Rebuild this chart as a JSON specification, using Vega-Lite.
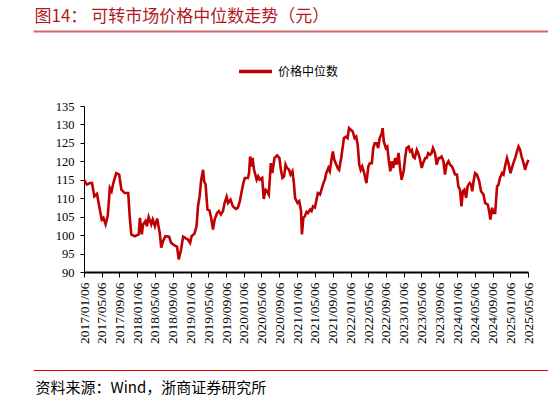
{
  "$schema": "https://vega.github.io/schema/vega-lite/v6.json",
  "width": 444,
  "height": 166,
  "autosize": {"type": "none"},
  "padding": {"left": 84, "top": 106, "right": 20, "bottom": 130},
  "background": "white",
  "config": {"view": {"stroke": null}},
  "data": {
    "values": [
      {"d": "2017-01-06", "v": 115.0}, {"d": "2017-01-26", "v": 113.7}, {"d": "2017-02-15", "v": 114.1}, {"d": "2017-03-02", "v": 114.1},
      {"d": "2017-03-18", "v": 110.5}, {"d": "2017-04-05", "v": 111.2}, {"d": "2017-04-18", "v": 108.3}, {"d": "2017-05-07", "v": 104.2},
      {"d": "2017-05-19", "v": 104.7}, {"d": "2017-06-03", "v": 102.9}, {"d": "2017-06-18", "v": 105.3}, {"d": "2017-07-02", "v": 112.8},
      {"d": "2017-07-14", "v": 111.9}, {"d": "2017-07-26", "v": 114.1}, {"d": "2017-08-15", "v": 116.8}, {"d": "2017-09-04", "v": 116.4},
      {"d": "2017-09-19", "v": 112.3}, {"d": "2017-10-12", "v": 111.4}, {"d": "2017-11-05", "v": 111.4}, {"d": "2017-11-15", "v": 105.1},
      {"d": "2017-11-26", "v": 100.2}, {"d": "2017-12-19", "v": 99.7}, {"d": "2018-01-16", "v": 100.2}, {"d": "2018-01-24", "v": 104.7},
      {"d": "2018-02-06", "v": 100.2}, {"d": "2018-02-15", "v": 102.9}, {"d": "2018-03-03", "v": 103.8}, {"d": "2018-03-13", "v": 102.4},
      {"d": "2018-03-25", "v": 104.9}, {"d": "2018-04-12", "v": 102.9}, {"d": "2018-04-22", "v": 104.2}, {"d": "2018-05-07", "v": 102.4},
      {"d": "2018-05-22", "v": 104.5}, {"d": "2018-06-09", "v": 100.6}, {"d": "2018-06-19", "v": 96.6}, {"d": "2018-07-02", "v": 98.4},
      {"d": "2018-07-18", "v": 99.7}, {"d": "2018-08-12", "v": 99.6}, {"d": "2018-08-26", "v": 97.9}, {"d": "2018-09-19", "v": 97.2},
      {"d": "2018-10-06", "v": 96.8}, {"d": "2018-10-17", "v": 93.4}, {"d": "2018-11-02", "v": 96.1}, {"d": "2018-11-16", "v": 99.6},
      {"d": "2018-12-05", "v": 99.1}, {"d": "2018-12-19", "v": 98.8}, {"d": "2019-01-03", "v": 97.9}, {"d": "2019-01-13", "v": 99.7},
      {"d": "2019-02-02", "v": 100.4}, {"d": "2019-02-16", "v": 102.4}, {"d": "2019-02-26", "v": 107.8}, {"d": "2019-03-09", "v": 110.5},
      {"d": "2019-03-20", "v": 115.0}, {"d": "2019-04-02", "v": 117.7}, {"d": "2019-04-09", "v": 114.6}, {"d": "2019-04-19", "v": 113.7},
      {"d": "2019-05-02", "v": 106.9}, {"d": "2019-05-16", "v": 106.7}, {"d": "2019-05-27", "v": 104.7}, {"d": "2019-06-09", "v": 101.5},
      {"d": "2019-06-20", "v": 104.2}, {"d": "2019-07-07", "v": 106.0}, {"d": "2019-07-19", "v": 106.5}, {"d": "2019-08-02", "v": 105.6},
      {"d": "2019-08-16", "v": 106.5}, {"d": "2019-08-27", "v": 108.7}, {"d": "2019-09-10", "v": 110.4}, {"d": "2019-09-20", "v": 108.7},
      {"d": "2019-10-07", "v": 109.6}, {"d": "2019-10-23", "v": 107.8}, {"d": "2019-11-12", "v": 107.1}, {"d": "2019-11-26", "v": 107.4},
      {"d": "2019-12-10", "v": 109.2}, {"d": "2019-12-20", "v": 111.4}, {"d": "2020-01-03", "v": 114.1}, {"d": "2020-01-13", "v": 115.5},
      {"d": "2020-02-03", "v": 115.5}, {"d": "2020-02-11", "v": 116.8}, {"d": "2020-02-18", "v": 121.3}, {"d": "2020-02-27", "v": 118.6},
      {"d": "2020-03-06", "v": 120.9}, {"d": "2020-03-16", "v": 117.7}, {"d": "2020-04-03", "v": 115.0}, {"d": "2020-04-13", "v": 115.9},
      {"d": "2020-04-24", "v": 115.0}, {"d": "2020-05-11", "v": 115.5}, {"d": "2020-05-21", "v": 109.8}, {"d": "2020-06-04", "v": 112.3},
      {"d": "2020-06-14", "v": 111.9}, {"d": "2020-06-25", "v": 111.0}, {"d": "2020-07-09", "v": 119.5}, {"d": "2020-07-19", "v": 116.8},
      {"d": "2020-08-03", "v": 120.9}, {"d": "2020-08-21", "v": 121.6}, {"d": "2020-09-06", "v": 120.9}, {"d": "2020-09-16", "v": 117.7},
      {"d": "2020-09-27", "v": 115.5}, {"d": "2020-10-08", "v": 115.9}, {"d": "2020-10-18", "v": 119.1}, {"d": "2020-10-28", "v": 118.2},
      {"d": "2020-11-11", "v": 117.7}, {"d": "2020-11-21", "v": 116.4}, {"d": "2020-12-04", "v": 117.3}, {"d": "2020-12-14", "v": 114.1},
      {"d": "2020-12-22", "v": 110.1}, {"d": "2021-01-08", "v": 108.7}, {"d": "2021-01-20", "v": 109.2}, {"d": "2021-02-01", "v": 106.5},
      {"d": "2021-02-07", "v": 100.2}, {"d": "2021-02-17", "v": 104.7}, {"d": "2021-02-27", "v": 105.1}, {"d": "2021-03-11", "v": 106.3},
      {"d": "2021-03-20", "v": 106.0}, {"d": "2021-04-04", "v": 106.9}, {"d": "2021-04-14", "v": 106.5}, {"d": "2021-04-24", "v": 107.8},
      {"d": "2021-05-07", "v": 107.5}, {"d": "2021-05-18", "v": 109.6}, {"d": "2021-05-27", "v": 111.4}, {"d": "2021-06-11", "v": 111.0},
      {"d": "2021-06-21", "v": 112.3}, {"d": "2021-07-04", "v": 114.1}, {"d": "2021-07-14", "v": 115.0}, {"d": "2021-07-24", "v": 116.8},
      {"d": "2021-08-07", "v": 118.2}, {"d": "2021-08-17", "v": 117.3}, {"d": "2021-08-28", "v": 120.4}, {"d": "2021-09-07", "v": 122.7},
      {"d": "2021-09-17", "v": 120.4}, {"d": "2021-09-27", "v": 119.5}, {"d": "2021-10-10", "v": 118.2}, {"d": "2021-10-20", "v": 117.7},
      {"d": "2021-11-03", "v": 120.9}, {"d": "2021-11-14", "v": 124.0}, {"d": "2021-11-22", "v": 126.3}, {"d": "2021-12-07", "v": 126.7},
      {"d": "2021-12-17", "v": 126.3}, {"d": "2021-12-27", "v": 129.0}, {"d": "2022-01-10", "v": 128.5}, {"d": "2022-01-21", "v": 128.1},
      {"d": "2022-02-03", "v": 126.3}, {"d": "2022-02-14", "v": 126.7}, {"d": "2022-02-24", "v": 124.5}, {"d": "2022-03-07", "v": 119.1},
      {"d": "2022-03-17", "v": 117.7}, {"d": "2022-03-27", "v": 118.6}, {"d": "2022-04-10", "v": 116.8}, {"d": "2022-04-25", "v": 114.1},
      {"d": "2022-05-08", "v": 118.6}, {"d": "2022-05-18", "v": 119.5}, {"d": "2022-06-01", "v": 119.5}, {"d": "2022-06-11", "v": 123.6},
      {"d": "2022-06-21", "v": 124.9}, {"d": "2022-07-05", "v": 124.9}, {"d": "2022-07-14", "v": 123.6}, {"d": "2022-07-25", "v": 126.3},
      {"d": "2022-08-08", "v": 127.6}, {"d": "2022-08-14", "v": 129.0}, {"d": "2022-08-22", "v": 125.4}, {"d": "2022-09-05", "v": 123.6},
      {"d": "2022-09-15", "v": 124.0}, {"d": "2022-09-26", "v": 120.0}, {"d": "2022-10-06", "v": 117.3}, {"d": "2022-10-15", "v": 120.0},
      {"d": "2022-10-25", "v": 118.2}, {"d": "2022-11-08", "v": 120.9}, {"d": "2022-11-18", "v": 119.1}, {"d": "2022-12-01", "v": 122.3},
      {"d": "2022-12-11", "v": 118.2}, {"d": "2022-12-22", "v": 115.0}, {"d": "2023-01-05", "v": 117.3}, {"d": "2023-01-15", "v": 120.9},
      {"d": "2023-01-25", "v": 123.6}, {"d": "2023-02-08", "v": 124.0}, {"d": "2023-02-18", "v": 122.7}, {"d": "2023-03-02", "v": 123.1},
      {"d": "2023-03-11", "v": 121.3}, {"d": "2023-03-22", "v": 120.9}, {"d": "2023-04-05", "v": 123.1}, {"d": "2023-04-15", "v": 122.2},
      {"d": "2023-04-25", "v": 120.9}, {"d": "2023-05-09", "v": 118.2}, {"d": "2023-05-18", "v": 119.5}, {"d": "2023-06-02", "v": 120.9},
      {"d": "2023-06-12", "v": 120.9}, {"d": "2023-06-22", "v": 122.2}, {"d": "2023-07-05", "v": 121.8}, {"d": "2023-07-15", "v": 122.2},
      {"d": "2023-07-25", "v": 123.6}, {"d": "2023-08-08", "v": 122.2}, {"d": "2023-08-19", "v": 119.1}, {"d": "2023-09-02", "v": 120.9},
      {"d": "2023-09-12", "v": 120.9}, {"d": "2023-09-22", "v": 121.3}, {"d": "2023-10-05", "v": 120.0}, {"d": "2023-10-15", "v": 116.4},
      {"d": "2023-10-26", "v": 119.1}, {"d": "2023-11-08", "v": 120.0}, {"d": "2023-11-19", "v": 119.1}, {"d": "2023-12-02", "v": 118.6},
      {"d": "2023-12-12", "v": 117.7}, {"d": "2023-12-22", "v": 116.5}, {"d": "2024-01-05", "v": 116.4}, {"d": "2024-01-15", "v": 113.2},
      {"d": "2024-01-26", "v": 112.3}, {"d": "2024-02-05", "v": 107.8}, {"d": "2024-02-15", "v": 111.9}, {"d": "2024-02-25", "v": 112.3},
      {"d": "2024-03-08", "v": 110.1}, {"d": "2024-03-18", "v": 113.2}, {"d": "2024-04-01", "v": 114.1}, {"d": "2024-04-11", "v": 113.7},
      {"d": "2024-04-19", "v": 111.9}, {"d": "2024-04-28", "v": 114.6}, {"d": "2024-05-09", "v": 116.8}, {"d": "2024-05-21", "v": 116.4},
      {"d": "2024-06-06", "v": 114.6}, {"d": "2024-06-18", "v": 111.9}, {"d": "2024-07-05", "v": 111.0}, {"d": "2024-07-16", "v": 108.7},
      {"d": "2024-08-03", "v": 108.3}, {"d": "2024-08-13", "v": 106.5}, {"d": "2024-08-21", "v": 104.2}, {"d": "2024-09-02", "v": 107.4},
      {"d": "2024-09-12", "v": 106.0}, {"d": "2024-09-23", "v": 106.0}, {"d": "2024-10-06", "v": 113.2}, {"d": "2024-10-16", "v": 113.7},
      {"d": "2024-10-26", "v": 115.5}, {"d": "2024-11-09", "v": 116.8}, {"d": "2024-11-19", "v": 116.4}, {"d": "2024-12-02", "v": 119.1},
      {"d": "2024-12-13", "v": 120.9}, {"d": "2024-12-23", "v": 119.5}, {"d": "2025-01-06", "v": 116.8}, {"d": "2025-01-16", "v": 118.2},
      {"d": "2025-01-26", "v": 119.5}, {"d": "2025-02-10", "v": 121.3}, {"d": "2025-02-20", "v": 122.7}, {"d": "2025-03-02", "v": 124.0},
      {"d": "2025-03-13", "v": 123.1}, {"d": "2025-03-23", "v": 121.3}, {"d": "2025-04-06", "v": 119.5}, {"d": "2025-04-16", "v": 117.7},
      {"d": "2025-04-26", "v": 119.1}, {"d": "2025-05-09", "v": 120.4}
    ]
  },
  "layer": [
    {
      "mark": {"type": "line", "strokeWidth": 2.6, "interpolate": "linear"},
      "encoding": {
        "x": {
          "field": "d", "type": "temporal",
          "scale": {"type": "utc", "domain": [{"year": 2017, "month": 1, "date": 6, "utc": true}, {"year": 2025, "month": 5, "date": 6, "utc": true}], "nice": false, "clamp": false},
          "axis": {
            "orient": "bottom",
            "values": [
              {"year": 2017, "month": 1, "date": 6, "utc": true}, {"year": 2017, "month": 5, "date": 6, "utc": true}, {"year": 2017, "month": 9, "date": 6, "utc": true},
              {"year": 2018, "month": 1, "date": 6, "utc": true}, {"year": 2018, "month": 5, "date": 6, "utc": true}, {"year": 2018, "month": 9, "date": 6, "utc": true},
              {"year": 2019, "month": 1, "date": 6, "utc": true}, {"year": 2019, "month": 5, "date": 6, "utc": true}, {"year": 2019, "month": 9, "date": 6, "utc": true},
              {"year": 2020, "month": 1, "date": 6, "utc": true}, {"year": 2020, "month": 5, "date": 6, "utc": true}, {"year": 2020, "month": 9, "date": 6, "utc": true},
              {"year": 2021, "month": 1, "date": 6, "utc": true}, {"year": 2021, "month": 5, "date": 6, "utc": true}, {"year": 2021, "month": 9, "date": 6, "utc": true},
              {"year": 2022, "month": 1, "date": 6, "utc": true}, {"year": 2022, "month": 5, "date": 6, "utc": true}, {"year": 2022, "month": 9, "date": 6, "utc": true},
              {"year": 2023, "month": 1, "date": 6, "utc": true}, {"year": 2023, "month": 5, "date": 6, "utc": true}, {"year": 2023, "month": 9, "date": 6, "utc": true},
              {"year": 2024, "month": 1, "date": 6, "utc": true}, {"year": 2024, "month": 5, "date": 6, "utc": true}, {"year": 2024, "month": 9, "date": 6, "utc": true},
              {"year": 2025, "month": 1, "date": 6, "utc": true}, {"year": 2025, "month": 5, "date": 6, "utc": true}
            ],
            "labelExpr": "utcFormat(datum.value, '%Y/%m/%d')",
            "labelAngle": -90,
            "labelAlign": "right",
            "labelBaseline": "middle",
            "labelFont": "Liberation Serif",
            "labelFontSize": 13.5,
            "labelColor": "#000000",
            "labelPadding": 5,
            "labelOverlap": false,
            "labelBound": false,
            "labelFlush": false,
            "tickSize": 5,
            "tickColor": "#000000",
            "tickWidth": 1,
            "domainColor": "#000000",
            "domainWidth": 2,
            "grid": false,
            "title": null
          }
        },
        "y": {
          "field": "v", "type": "quantitative",
          "scale": {"domain": [90, 135], "nice": false, "zero": false},
          "axis": {
            "values": [90, 95, 100, 105, 110, 115, 120, 125, 130, 135],
            "labelFont": "Liberation Serif",
            "labelFontSize": 12.5,
            "labelColor": "#000000",
            "labelPadding": 6,
            "tickSize": 4,
            "tickColor": "#000000",
            "domainColor": "#000000",
            "domainWidth": 1,
            "grid": false,
            "title": null
          }
        },
        "color": {
          "datum": "价格中位数",
          "scale": {"range": ["#C00000"]},
          "legend": {
            "orient": "none",
            "legendX": 153,
            "legendY": -53,
            "title": null,
            "padding": 0,
            "symbolType": "stroke",
            "symbolSize": 1089,
            "symbolStrokeWidth": 3.5,
            "labelFont": "Noto Sans CJK SC",
            "labelFontSize": 12,
            "labelColor": "#000000",
            "labelOffset": 4
          }
        }
      }
    },
    {
      "mark": {"type": "point", "opacity": 0},
      "encoding": {
        "x": {
          "field": "d", "type": "temporal",
          "scale": {"type": "utc", "range": [-51, 464]},
          "axis": {
            "orient": "top",
            "offset": 75,
            "labels": false,
            "ticks": false,
            "grid": false,
            "domainColor": "#D06A6A",
            "domainWidth": 2,
            "title": "图14：  可转市场价格中位数走势（元）",
            "titleAnchor": "start",
            "titleAlign": "left",
            "titleBaseline": "alphabetic",
            "titleX": -50,
            "titleY": -10,
            "titleFont": "Noto Sans CJK SC",
            "titleFontSize": 17,
            "titleFontWeight": "normal",
            "titleColor": "#B01A22"
          }
        }
      }
    },
    {
      "mark": {"type": "point", "opacity": 0},
      "encoding": {
        "x": {
          "field": "d", "type": "temporal",
          "scale": {"type": "utc", "range": [-51, 464]},
          "axis": {
            "orient": "bottom",
            "offset": 98,
            "labels": false,
            "ticks": false,
            "grid": false,
            "domainColor": "#E00000",
            "domainWidth": 1,
            "title": "资料来源：Wind，浙商证券研究所",
            "titleAnchor": "start",
            "titleAlign": "left",
            "titleBaseline": "alphabetic",
            "titleX": -49,
            "titleY": 22,
            "titleFont": "Noto Sans CJK SC",
            "titleFontSize": 15,
            "titleFontWeight": "normal",
            "titleColor": "#000000"
          }
        }
      }
    }
  ],
  "resolve": {"scale": {"x": "independent"}, "axis": {"x": "independent"}}
}
